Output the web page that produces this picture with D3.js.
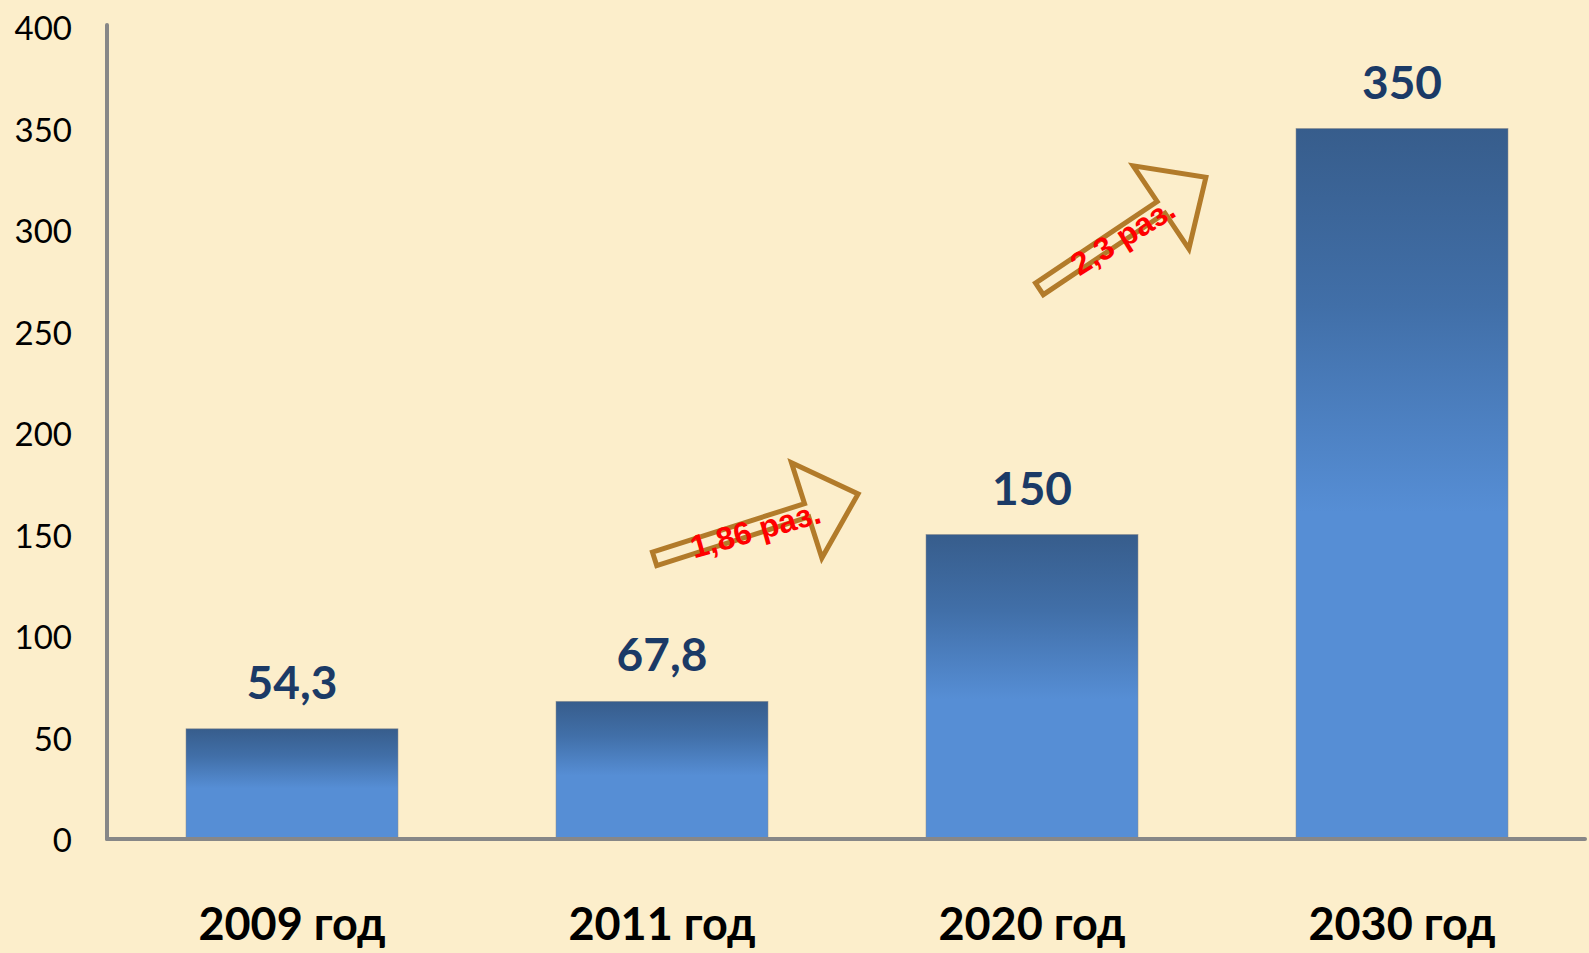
<!DOCTYPE html>
<html>
<head>
<meta charset="utf-8">
<script src="https://cdn.jsdelivr.net/npm/d3@7"></script>
<style>
  html, body { margin: 0; padding: 0; background: #FCEECB; }
  svg { display: block; }
  .tick-label { font-family: Lato, "Open Sans", sans-serif; font-size: 33px; fill: #000; }
  .cat-label { font-family: Lato, "Open Sans", sans-serif; font-weight: 700; font-size: 45px; fill: #000; }
  .val-label { font-family: Lato, "Open Sans", sans-serif; font-weight: 700; font-size: 46px; fill: #1B3A66; }
  .arrow-text { font-family: "Liberation Sans", Arial, sans-serif; font-weight: 700; font-size: 32px; fill: #FF0000; }
</style>
</head>
<body>
<svg id="chart" width="1589" height="953"></svg>
<script>
// -----------------------------------------------------------------------------
// Data
// -----------------------------------------------------------------------------
const categories = ['2009 год', '2011 год', '2020 год', '2030 год'];
const values = [54.3, 67.8, 150, 350];
const valueLabels = ['54,3', '67,8', '150', '350'];
const yTicks = [0, 50, 100, 150, 200, 250, 300, 350, 400];

// growth arrows: tail/tip given as (fractional category index, value)
const arrowText = ['1,86 раз.', '2,3 раз.'];
const arrowTail = [[0.98, 138], [2.02, 271]];
const arrowTip  = [[1.53, 170], [2.47, 326]];

// -----------------------------------------------------------------------------
const plotL = 107, plotR = 1587, plotT = 27, plotB = 839;

const svg = d3.select('#chart');

const x = d3.scaleBand()
  .domain(categories)
  .range([plotL, plotR])
  .paddingInner(0.427)
  .paddingOuter(0.2135);

const y = d3.scaleLinear().domain([0, 400]).range([plotB, plotT]);

// index (can be fractional) -> pixel x of band centre
const step = x.step();
const xAt = i => x(categories[0]) + x.bandwidth() / 2 + i * step;

// Gradient used for every bar (dark top, lighter lower half)
const defs = svg.append('defs');
const grad = defs.append('linearGradient')
  .attr('id', 'barGrad')
  .attr('x1', 0).attr('y1', 0).attr('x2', 0).attr('y2', 1);
grad.append('stop').attr('offset', '0%').attr('stop-color', '#375D8C');
grad.append('stop').attr('offset', '25%').attr('stop-color', '#416FA8');
grad.append('stop').attr('offset', '54%').attr('stop-color', '#568ED5');
grad.append('stop').attr('offset', '100%').attr('stop-color', '#568ED5');

// Bars
svg.append('g').selectAll('rect')
  .data(values)
  .join('rect')
  .attr('x', (d, i) => x(categories[i]))
  .attr('y', d => y(d))
  .attr('width', x.bandwidth())
  .attr('height', d => plotB - y(d))
  .attr('fill', 'url(#barGrad)')
  .attr('stroke', '#8B8B8B')
  .attr('stroke-width', 0.8)
  .attr('stroke-opacity', 0.6);

// Value labels
svg.append('g').selectAll('text')
  .data(values)
  .join('text')
  .attr('class', 'val-label')
  .attr('text-anchor', 'middle')
  .attr('x', (d, i) => x(categories[i]) + x.bandwidth() / 2)
  .attr('y', d => y(d) - 30)
  .text((d, i) => valueLabels[i]);

// Axes lines (gray, thick)
svg.append('line')
  .attr('x1', plotL).attr('x2', plotL)
  .attr('y1', plotT - 2).attr('y2', plotB)
  .attr('stroke', '#878787').attr('stroke-width', 4).attr('stroke-linecap', 'round');
svg.append('line')
  .attr('x1', plotL).attr('x2', plotR - 2)
  .attr('y1', plotB).attr('y2', plotB)
  .attr('stroke', '#878787').attr('stroke-width', 4).attr('stroke-linecap', 'round');

// Y tick labels
svg.append('g').selectAll('text')
  .data(yTicks)
  .join('text')
  .attr('class', 'tick-label')
  .attr('text-anchor', 'end')
  .attr('dominant-baseline', 'central')
  .attr('x', 72)
  .attr('y', d => y(d))
  .text(d => d);

// Category labels
svg.append('g').selectAll('text')
  .data(categories)
  .join('text')
  .attr('class', 'cat-label')
  .attr('text-anchor', 'middle')
  .attr('x', d => x(d) + x.bandwidth() / 2)
  .attr('y', 940)
  .text(d => d);

// Growth arrows (outlined block arrows with red rotated text)
const shaftHalf = 7, headHalf = 50, headLen = 54;
arrowText.forEach((label, k) => {
  const x0 = xAt(arrowTail[k][0]), y0 = y(arrowTail[k][1]);
  const x1 = xAt(arrowTip[k][0]), y1 = y(arrowTip[k][1]);
  const len = Math.hypot(x1 - x0, y1 - y0);
  const ang = Math.atan2(y1 - y0, x1 - x0) * 180 / Math.PI;
  const g = svg.append('g')
    .attr('transform', `translate(${x0},${y0}) rotate(${ang})`);
  const pts = [
    [0, -shaftHalf], [len - headLen, -shaftHalf], [len - headLen, -headHalf],
    [len, 0],
    [len - headLen, headHalf], [len - headLen, shaftHalf], [0, shaftHalf]
  ];
  g.append('path')
    .attr('d', d3.line()(pts) + 'Z')
    .attr('fill', 'none')
    .attr('stroke', '#B27B2A')
    .attr('stroke-width', 5)
    .attr('stroke-linejoin', 'miter');
  g.append('text')
    .attr('class', 'arrow-text')
    .attr('text-anchor', 'middle')
    .attr('dominant-baseline', 'central')
    .attr('transform', `translate(${len / 2 - 2},3) rotate(2)`)
    .text(label);
});
</script>
</body>
</html>
